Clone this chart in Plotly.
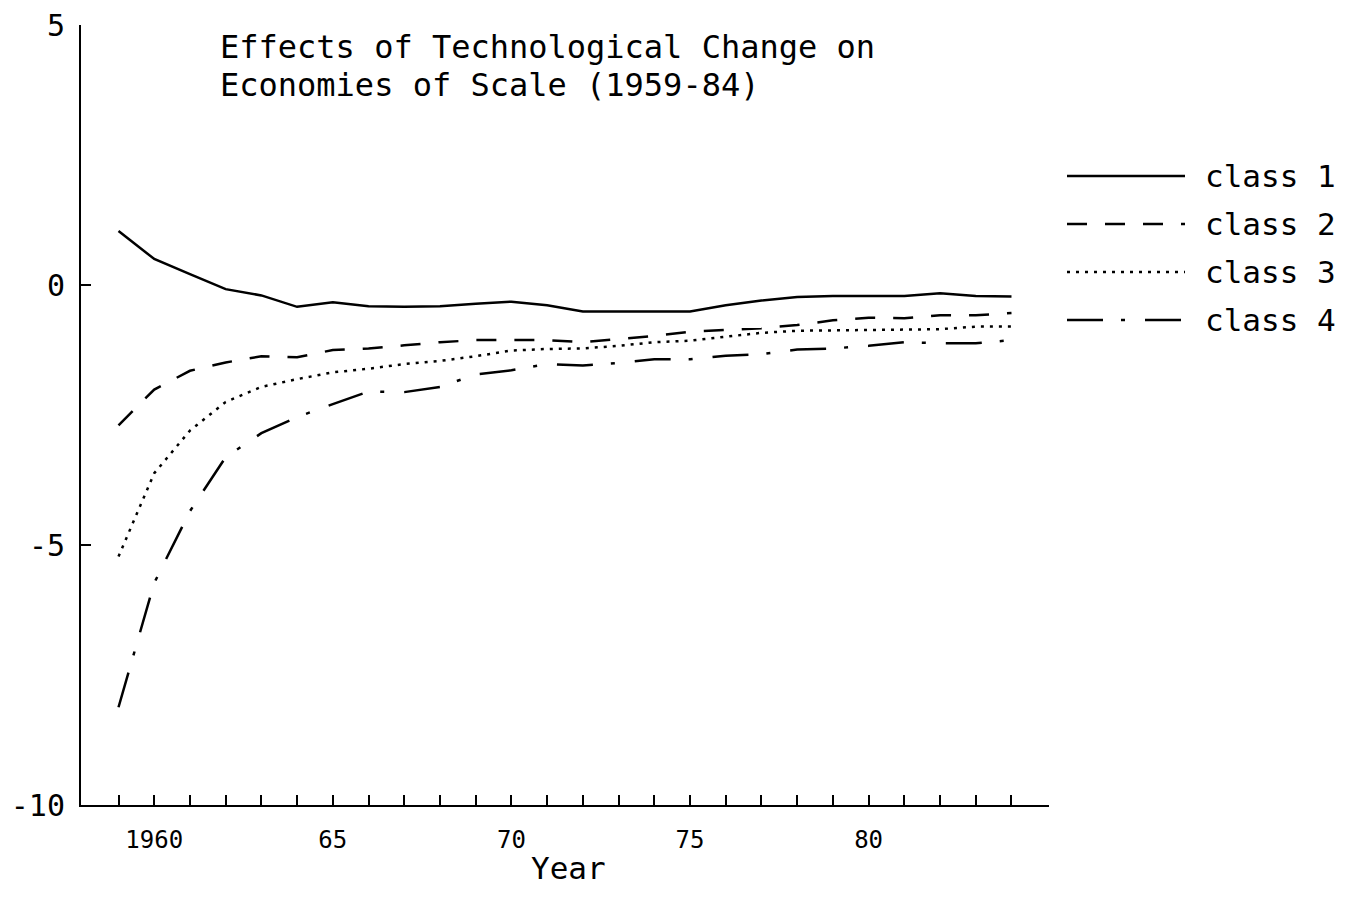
import plotly.graph_objects as go

years = list(range(1959, 1985))

class1 = [1.04, 0.50, 0.21, -0.08, -0.20, -0.42, -0.33, -0.41, -0.42, -0.41,
          -0.36, -0.32, -0.39, -0.51, -0.51, -0.51, -0.51, -0.39, -0.30, -0.23,
          -0.21, -0.21, -0.21, -0.16, -0.21, -0.22]
class2 = [-2.70, -2.01, -1.65, -1.49, -1.37, -1.39, -1.25, -1.22, -1.16, -1.10,
          -1.06, -1.06, -1.06, -1.10, -1.04, -0.98, -0.90, -0.87, -0.83, -0.77,
          -0.68, -0.63, -0.64, -0.58, -0.58, -0.54]
class3 = [-5.22, -3.62, -2.80, -2.25, -1.96, -1.81, -1.68, -1.61, -1.52, -1.46,
          -1.37, -1.26, -1.23, -1.22, -1.17, -1.10, -1.07, -1.00, -0.92, -0.88,
          -0.87, -0.86, -0.85, -0.85, -0.80, -0.80]
class4 = [-8.12, -5.73, -4.35, -3.31, -2.85, -2.54, -2.29, -2.05, -2.06, -1.96,
          -1.72, -1.64, -1.52, -1.55, -1.50, -1.43, -1.43, -1.36, -1.33, -1.24,
          -1.22, -1.17, -1.10, -1.12, -1.12, -1.06]

series_names = ["class 1", "class 2", "class 3", "class 4"]
series_values = [class1, class2, class3, class4]
dashes = ["solid", "20px,18px", "3px,6px", "36px,18px,4px,20px"]

x_tick_vals = years
x_tick_text = ["" if y not in (1960, 1965, 1970, 1975, 1980)
               else ("1960" if y == 1960 else str(y)[2:]) for y in years]
y_tick_vals = [-10, -5, 0, 5]
y_tick_text = ["-10", "-5", "0", "5"]

title_lines = ["Effects of Technological Change on", "Economies of Scale (1959-84)"]
x_title = "Year"

FONT = "DejaVu Sans Mono"

fig = go.Figure()
for name, vals, d in zip(series_names, series_values, dashes):
    fig.add_trace(go.Scatter(x=years, y=vals, mode="lines", name=name,
                             line=dict(color="black", width=2.5, dash=d),
                             showlegend=False))

W, H = 1345, 915
ml, mr, mt, mb = 81, 296, 25, 110
pw, ph = W - ml - mr, H - mt - mb

def px_x(p):
    return (p - ml) / pw

def px_y(p):
    return (H - mb - p) / ph

# Title
for i, t in enumerate(title_lines):
    fig.add_annotation(text=t, xref="paper", yref="paper",
                       x=px_x(218), y=px_y(47 + 38 * i), xanchor="left", yanchor="middle",
                       showarrow=False, font=dict(family=FONT, size=32, color="black"))

# X axis title
fig.add_annotation(text=x_title, xref="paper", yref="paper",
                   x=px_x(568), y=px_y(868), xanchor="center", yanchor="middle",
                   showarrow=False, font=dict(family=FONT, size=31, color="black"))

# Legend drawn manually
for i, (name, d) in enumerate(zip(series_names, dashes)):
    yy = px_y(176 + 48 * i)
    fig.add_shape(type="line", xref="paper", yref="paper",
                  x0=px_x(1067), x1=px_x(1185), y0=yy, y1=yy,
                  line=dict(color="black", width=2.5, dash=d))
    fig.add_annotation(text=name, xref="paper", yref="paper",
                       x=px_x(1203), y=yy, xanchor="left", yanchor="middle",
                       showarrow=False, font=dict(family=FONT, size=31, color="black"))

fig.update_layout(
    width=W, height=H,
    margin=dict(l=ml, r=mr, t=mt, b=mb, autoexpand=False),
    paper_bgcolor="white", plot_bgcolor="white",
    xaxis=dict(range=[1957.95, 1985.05], showgrid=False, zeroline=False,
               automargin=False,
               showline=True, linecolor="black", linewidth=2,
               tickmode="array", tickvals=x_tick_vals, ticktext=x_tick_text,
               ticks="inside", ticklen=10, tickwidth=2, tickcolor="black",
               ticklabelstandoff=12,
               tickfont=dict(family=FONT, size=24, color="black")),
    yaxis=dict(range=[-10, 5], showgrid=False, zeroline=False,
               automargin=False,
               showline=True, linecolor="black", linewidth=2,
               tickmode="array", tickvals=y_tick_vals, ticktext=y_tick_text,
               ticks="inside", ticklen=10, tickwidth=2, tickcolor="black",
               ticklabelstandoff=8,
               tickfont=dict(family=FONT, size=30, color="black")),
)

fig.write_html("out.html")
